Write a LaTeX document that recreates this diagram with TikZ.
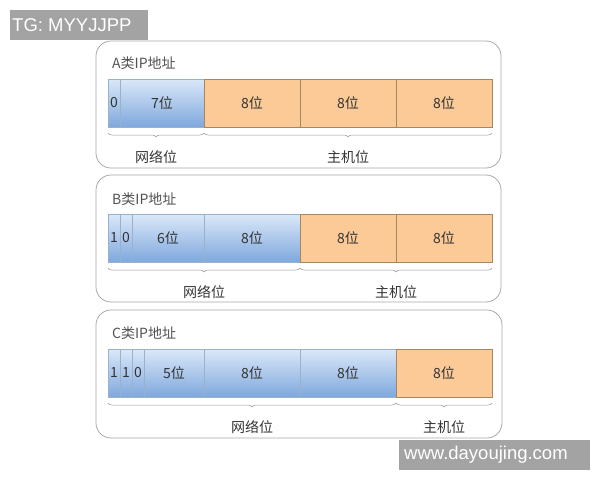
\documentclass[tikz,border=0pt]{standalone}
\usepackage{fontspec}
\setmainfont{Noto Sans CJK SC}
\newfontfamily\wmfont{Liberation Sans}
\usetikzlibrary{decorations.pathreplacing,calc}
\definecolor{txt}{HTML}{333333}
\definecolor{boxline}{HTML}{A8A8A8}
\definecolor{bluetop}{HTML}{DAE8F9}
\definecolor{bluebot}{HTML}{7FA8DD}
\definecolor{blueline}{HTML}{9AB0CC}
\definecolor{orangefill}{HTML}{FBCA97}
\definecolor{orangeline}{HTML}{A88660}
\definecolor{wmgray}{HTML}{A3A3A3}
\begin{document}
\begin{tikzpicture}[x=1pt,y=-1pt,
  frame/.style={draw=boxline,line width=0.8pt,rounded corners=15pt},
  netseg/.style={anchor=north west,inner sep=0pt,outer sep=0pt,minimum height=48pt,
    top color=bluetop,bottom color=bluebot,draw=blueline,line width=0.5pt,
    font=\fontsize{14}{16}\selectfont,text=txt},
  hostseg/.style={anchor=north west,inner sep=0pt,outer sep=0pt,minimum height=48pt,
    fill=orangefill,draw=orangeline,line width=0.6pt,
    font=\fontsize{14}{16}\selectfont,text=txt},
  title/.style={anchor=west,inner sep=0pt,font=\fontsize{14}{16}\selectfont,text=txt!85},
  blabel/.style={anchor=center,inner sep=0pt,font=\fontsize{14}{16}\selectfont,text=txt},
  brc/.style={draw=boxline!90!black,line width=0.5pt,decorate,decoration={brace,mirror,amplitude=4pt}},
  wm/.style={fill=wmgray,inner sep=0pt,anchor=north west},
  wmtext/.style={anchor=west,inner sep=0pt,text=white,font=\wmfont\fontsize{18.5}{20}\selectfont}
]
\useasboundingbox (0,0) rectangle (600,480);
% watermarks
\node[wm,minimum width=138pt,minimum height=30pt] (wm1) at (10,10) {};
\node[wmtext] (wm1t) at (12,25) {TG: MYYJJPP};
% frames
\draw[frame] (96,41) rectangle (501,168);
\draw[frame] (96,175) rectangle (501,302);
\draw[frame] (96,310) rectangle (502,438);
% titles
\node[title] (ta) at (112,63) {A类IP地址};
\node[title] (tb) at (112,199) {B类IP地址};
\node[title] (tc) at (112,333) {C类IP地址};
% A bar
\foreach \x/\w/\t/\n in {108/12/0/a1,120/84/7位/a2}
  \node[netseg,minimum width=\w pt] (\n) at (\x,79) {\t};
\foreach \x/\t/\n in {204/8位/a3,300/8位/a4,396/8位/a5}
  \node[hostseg,minimum width=96pt] (\n) at (\x,79) {\t};
% B bar
\foreach \x/\w/\t/\n in {108/12/1/b1,120/12/0/b2,132/72/6位/b3,204/96/8位/b4}
  \node[netseg,minimum width=\w pt] (\n) at (\x,214) {\t};
\foreach \x/\t/\n in {300/8位/b5,396/8位/b6}
  \node[hostseg,minimum width=96pt] (\n) at (\x,214) {\t};
% C bar
\foreach \x/\w/\t/\n in {108/12/1/c1,120/12/1/c2,132/12/0/c3,144/60/5位/c4,204/96/8位/c5,300/96/8位/c6}
  \node[netseg,minimum width=\w pt] (\n) at (\x,349) {\t};
\node[hostseg,minimum width=96pt] (c7) at (396,349) {8位};
% braces A
\draw[brc] ($(a1.south west)+(0,6)$) -- coordinate (anet) ($(a2.south east)+(0,6)$);
\draw[brc] ($(a3.south west)+(0,6)$) -- coordinate (ahost) ($(a5.south east)+(0,6)$);
\node[blabel] (la1) at ($(anet)+(0,24)$) {网络位};
\node[blabel] (la2) at ($(ahost)+(0,24)$) {主机位};
% braces B
\draw[brc] ($(b1.south west)+(0,6)$) -- coordinate (bnet) ($(b4.south east)+(0,6)$);
\draw[brc] ($(b5.south west)+(0,6)$) -- coordinate (bhost) ($(b6.south east)+(0,6)$);
\node[blabel] (lb1) at ($(bnet)+(0,24)$) {网络位};
\node[blabel] (lb2) at ($(bhost)+(0,24)$) {主机位};
% braces C
\draw[brc] ($(c1.south west)+(0,6)$) -- coordinate (cnet) ($(c6.south east)+(0,6)$);
\draw[brc] ($(c7.south west)+(0,6)$) -- coordinate (chost) ($(c7.south east)+(0,6)$);
\node[blabel] (lc1) at ($(cnet)+(0,24)$) {网络位};
\node[blabel] (lc2) at ($(chost)+(0,24)$) {主机位};
% bottom watermark
\node[wm,minimum width=191pt,minimum height=30pt] (wm2) at (399,440) {};
\node[wmtext] (wm2t) at (404,455) {www.dayoujing.com};
\end{tikzpicture}
\end{document}
